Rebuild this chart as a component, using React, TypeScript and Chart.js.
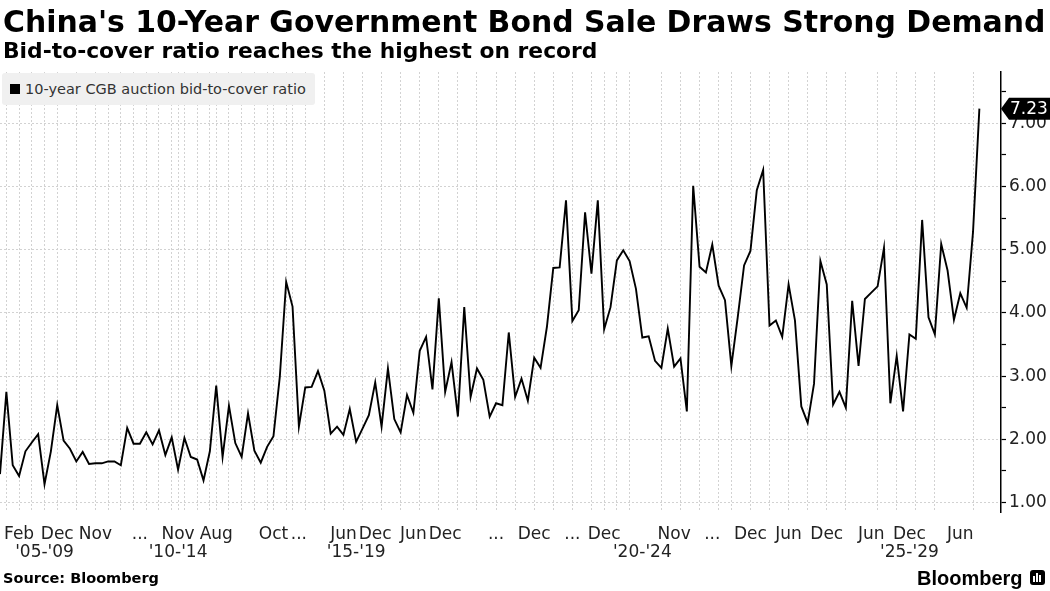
import React, { useEffect, useRef } from 'react';
import { Chart, registerables } from 'chart.js';

Chart.register(...registerables);

// Bid-to-cover ratio of each 10-year CGB auction, in auction order
const bidToCover: number[] = [
  1.45, 2.75, 1.59, 1.42, 1.81, 1.95, 2.08, 1.29, 1.81, 2.54,
  1.98, 1.85, 1.65, 1.80, 1.61, 1.62, 1.62, 1.65, 1.65, 1.59,
  2.18, 1.93, 1.93, 2.11, 1.92, 2.14, 1.75, 2.03, 1.52, 2.02,
  1.72, 1.68, 1.35, 1.81, 2.85, 1.72, 2.53, 1.94, 1.72, 2.41,
  1.82, 1.63, 1.88, 2.05, 2.99, 4.49, 4.10, 2.20, 2.82, 2.83,
  3.08, 2.77, 2.09, 2.20, 2.07, 2.48, 1.96, 2.17, 2.38, 2.90,
  2.20, 3.12, 2.32, 2.11, 2.70, 2.42, 3.40, 3.62, 2.79, 4.23,
  2.75, 3.22, 2.36, 4.09, 2.67, 3.12, 2.94, 2.36, 2.57, 2.54,
  3.69, 2.67, 2.96, 2.61, 3.29, 3.13, 3.78, 4.71, 4.72, 5.78,
  3.87, 4.04, 5.59, 4.62, 5.78, 3.74, 4.09, 4.83, 4.99, 4.82,
  4.38, 3.61, 3.63, 3.24, 3.13, 3.75, 3.15, 3.28, 2.44, 6.01,
  4.73, 4.64, 5.08, 4.43, 4.20, 3.16, 3.93, 4.75, 4.98, 5.94,
  6.26, 3.80, 3.88, 3.62, 4.45, 3.88, 2.52, 2.26, 2.88, 4.82,
  4.45, 2.55, 2.75, 2.50, 4.19, 3.16, 4.22, 4.32, 4.42, 5.03,
  2.57, 3.32, 2.44, 3.66, 3.59, 5.47, 3.93, 3.66, 5.09, 4.67,
  3.89, 4.31, 4.08, 5.28, 7.23,
];

const seriesName = '10-year CGB auction bid-to-cover ratio';

// Month labels on the auction axis (auction number -> month)
const monthTickAt = [3, 9, 15, 22, 28, 34, 43, 47, 54, 59, 65, 70, 78, 84, 90, 95, 106, 112, 118, 124, 130, 137, 143, 151];
const monthTickText = ['Feb', 'Dec', 'Nov', '...', 'Nov', 'Aug', 'Oct', '...', 'Jun', 'Dec', 'Jun', 'Dec', '...', 'Dec', '...', 'Dec', 'Nov', '...', 'Dec', 'Jun', 'Dec', 'Jun', 'Dec', 'Jun'];

// Year-range labels on the second row
const yearTickAt = [7, 28, 56, 101, 143];
const yearTickText = ["'05-'09", "'10-'14", "'15-'19", "'20-'24", "'25-'29"];

// Auctions that start a new reporting period (vertical guides)
const periodStartAt = [
  1, 3, 5, 7, 9, 12, 15, 17, 19, 21, 23, 25, 27, 28, 29, 31, 33, 34, 36, 38,
  40, 42, 43, 45, 46, 48, 51, 54, 57, 60, 63, 66, 69, 72, 75, 78, 81, 84, 87, 90,
  93, 95, 97, 99, 104, 107, 110, 113, 115, 118, 121, 124, 127, 130, 133, 138, 141, 144, 147, 153,
];

// Value axis: labelled whole numbers plus half-step minor ticks
const yLabelled = [1, 2, 3, 4, 5, 6, 7];
const yMinor = [1.5, 2.5, 3.5, 4.5, 5.5, 6.5, 7.5];
const yMin = 0.85;
const yMax = 7.81;

const FONT = '"DejaVu Sans", Verdana, sans-serif';

const lastValueTag = {
  id: 'lastValueTag',
  afterDraw(chart: any) {
    const { ctx } = chart;
    const yScale = chart.scales.y;
    const last = bidToCover[bidToCover.length - 1];
    const y = yScale.getPixelForValue(last);
    const x0 = yScale.left;
    const right = chart.width;
    const h = 11;
    ctx.save();
    ctx.fillStyle = '#000';
    ctx.beginPath();
    ctx.moveTo(x0, y);
    ctx.lineTo(x0 + 8, y - h);
    ctx.lineTo(right, y - h);
    ctx.lineTo(right, y + h);
    ctx.lineTo(x0 + 8, y + h);
    ctx.closePath();
    ctx.fill();
    ctx.fillStyle = '#fff';
    ctx.font = `17px ${FONT}`;
    ctx.textAlign = 'left';
    ctx.textBaseline = 'middle';
    ctx.fillText(last.toFixed(2), x0 + 9, y + 1);
    ctx.restore();
  },
};

export default function App() {
  const canvasRef = useRef<HTMLCanvasElement | null>(null);

  useEffect(() => {
    const canvas = canvasRef.current;
    if (!canvas) return;

    const tickLabels = new Map<number, string | string[]>();
    const allTicks = new Set<number>([...periodStartAt, ...monthTickAt, ...yearTickAt]);
    allTicks.forEach((i) => {
      const m = monthTickAt.indexOf(i);
      const yv = yearTickAt.indexOf(i);
      const month = m >= 0 ? monthTickText[m] : '';
      if (yv >= 0) tickLabels.set(i, [month, yearTickText[yv]]);
      else tickLabels.set(i, month);
    });
    const xTickValues = Array.from(allTicks).sort((a, b) => a - b);
    const periodSet = new Set(periodStartAt);
    const yTickValues = [...yLabelled, ...yMinor].sort((a, b) => a - b);

    const chart = new Chart(canvas, {
      type: 'line',
      data: {
        datasets: [
          {
            label: seriesName,
            data: bidToCover.map((v, i) => ({ x: i, y: v })),
            borderColor: '#000',
            borderWidth: 1.9,
            pointRadius: 0,
            tension: 0,
            fill: false,
          },
        ],
      },
      options: {
        responsive: false,
        animation: false,
        devicePixelRatio: 1,
        layout: { padding: { top: 72, left: 0, right: 0, bottom: 0 } },
        plugins: {
          legend: { display: false },
          tooltip: { enabled: false },
          title: { display: false },
        },
        scales: {
          x: {
            type: 'linear',
            bounds: 'data',
            min: 0,
            max: 157.4,
            afterBuildTicks: (scale: any) => {
              scale.ticks = xTickValues.map((value) => ({ value }));
            },
            afterFit: (scale: any) => {
              scale.height = 79;
              scale.paddingLeft = 0;
              scale.paddingRight = 0;
            },
            ticks: {
              autoSkip: false,
              maxRotation: 0,
              minRotation: 0,
              padding: 14,
              color: '#222',
              font: { family: FONT, size: 17, lineHeight: 1.06 },
              callback: (value: any) => tickLabels.get(Number(value)) ?? '',
            },
            grid: {
              drawTicks: false,
              lineWidth: 1,
              color: (c: any) =>
                c.tick && periodSet.has(c.tick.value) ? '#d2d2d2' : 'rgba(0,0,0,0)',
            },
            border: { display: false, dash: [2, 2] },
          },
          y: {
            type: 'linear',
            position: 'right',
            bounds: 'data',
            min: yMin,
            max: yMax,
            afterBuildTicks: (scale: any) => {
              scale.ticks = yTickValues.map((value) => ({ value }));
            },
            afterFit: (scale: any) => {
              scale.width = 49;
            },
            ticks: {
              autoSkip: false,
              padding: 3,
              color: '#222',
              font: { family: FONT, size: 17 },
              callback: (value: any) =>
                yLabelled.includes(Number(value)) ? Number(value).toFixed(2) : '',
            },
            grid: {
              drawTicks: true,
              tickLength: 5,
              tickWidth: 1.2,
              tickColor: '#000',
              lineWidth: 1,
              color: (c: any) =>
                c.tick && yLabelled.includes(c.tick.value) ? '#d2d2d2' : 'rgba(0,0,0,0)',
            },
            border: { display: true, color: '#000', width: 1.5, dash: [2, 2] },
          },
        },
      },
      plugins: [lastValueTag],
    } as any);

    return () => chart.destroy();
  }, []);

  return (
    <div
      style={{
        position: 'fixed',
        left: 0,
        top: 0,
        width: 1050,
        height: 591,
        background: '#fff',
        overflow: 'hidden',
        fontFamily: FONT,
      }}
    >
      <canvas
        ref={canvasRef}
        width={1050}
        height={591}
        style={{ position: 'absolute', left: 0, top: 0, width: 1050, height: 591 }}
      />
      <div
        style={{
          position: 'absolute',
          left: 3,
          top: 7,
          fontSize: 29.9,
          lineHeight: '30px',
          fontWeight: 'bold',
          color: '#000',
          whiteSpace: 'nowrap',
        }}
      >
        China's 10-Year Government Bond Sale Draws Strong Demand
      </div>
      <div
        style={{
          position: 'absolute',
          left: 3,
          top: 40,
          fontSize: 21.8,
          lineHeight: '22px',
          fontWeight: 'bold',
          color: '#000',
          whiteSpace: 'nowrap',
        }}
      >
        Bid-to-cover ratio reaches the highest on record
      </div>
      <div
        style={{
          position: 'absolute',
          left: 2,
          top: 73,
          width: 313,
          height: 32,
          background: '#f0f0f0',
          borderRadius: 3,
        }}
      >
        <div
          style={{
            position: 'absolute',
            left: 8,
            top: 11,
            width: 10,
            height: 10,
            background: '#000',
          }}
        />
        <div
          style={{
            position: 'absolute',
            left: 23,
            top: 8,
            fontSize: 14.5,
            lineHeight: '16px',
            color: '#333',
            whiteSpace: 'nowrap',
          }}
        >
          {seriesName}
        </div>
      </div>
      <div
        style={{
          position: 'absolute',
          left: 3,
          top: 571,
          fontSize: 14.5,
          lineHeight: '15px',
          fontWeight: 'bold',
          color: '#000',
          whiteSpace: 'nowrap',
        }}
      >
        Source: Bloomberg
      </div>
      <div
        style={{
          position: 'absolute',
          left: 917,
          top: 567,
          fontSize: 20,
          lineHeight: '22px',
          fontWeight: 'bold',
          fontFamily: '"Liberation Sans", Arial, sans-serif',
          color: '#000',
          whiteSpace: 'nowrap',
        }}
      >
        Bloomberg
      </div>
      <div
        style={{
          position: 'absolute',
          left: 1030,
          top: 570,
          width: 15,
          height: 15,
          background: '#000',
          borderRadius: 3,
        }}
      >
        {[
          [3, 6],
          [6, 3],
          [9, 5],
        ].map(([l, t], k) => (
          <div
            key={k}
            style={{
              position: 'absolute',
              left: l,
              top: t,
              width: 2,
              height: 15 - t - 3,
              background: '#fff',
            }}
          />
        ))}
      </div>
    </div>
  );
}
